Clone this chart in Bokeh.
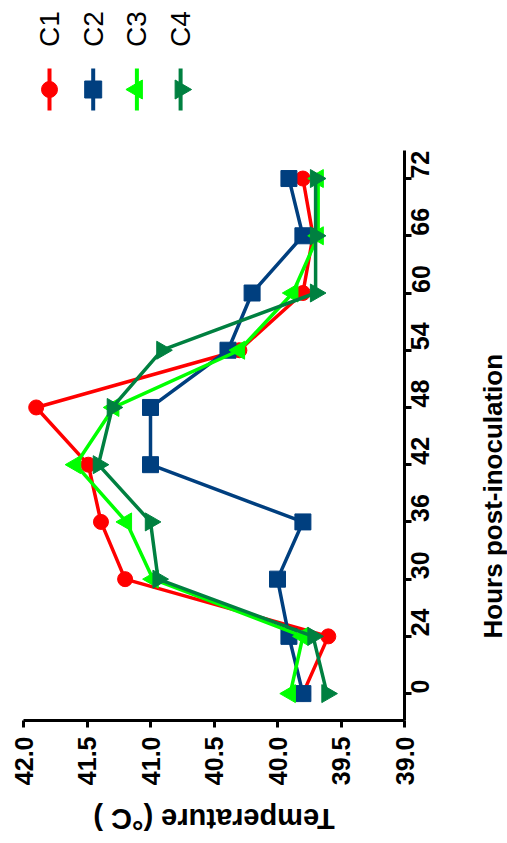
import math
from bokeh.plotting import figure
from bokeh.models import Range1d, FixedTicker, ColumnDataSource, NumeralTickFormatter
from bokeh.layouts import column, row
from bokeh.embed import file_html
from bokeh.resources import INLINE
from bokeh.core.properties import value

# ---- data ----
hours = [0, 24, 30, 36, 42, 48, 54, 60, 66, 72]
series_names = ["C1", "C2", "C3", "C4"]
c1 = [39.80, 39.60, 41.20, 41.39, 41.49, 41.90, 40.30, 39.80, 39.72, 39.80]
c2 = [39.80, 39.91, 40.00, 39.80, 41.00, 41.00, 40.39, 40.20, 39.80, 39.91]
c3 = [39.90, 39.80, 40.98, 41.19, 41.59, 41.29, 40.30, 39.88, 39.68, 39.68]
c4 = [39.61, 39.72, 40.94, 41.00, 41.41, 41.30, 40.91, 39.70, 39.70, 39.70]
temp_ticks = [42.0, 41.5, 41.0, 40.5, 40.0, 39.5, 39.0]
x_title = "Temperature (°C )"
y_title = "Hours post-inoculation"

# ---- styles ----
colors = ["#FF0000", "#003F7F", "#00FF00", "#008040"]
markers = ["circle", "square", "triangle", "triangle"]
angles = [0, 0, math.pi / 2, -math.pi / 2]
sizes = [15, 16, 18, 18]
FONT = "Liberation Sans"

series = [c1, c2, c3, c4]
idx = list(range(len(hours)))

W, H = 507, 843
LEG_H = 125        # legend strip on top
BOT_H = 46         # strip for the upside-down x title
RIGHT_W = 37       # strip for the rotated y title
MAIN_H = H - LEG_H - BOT_H
MAIN_W = W - RIGHT_W
BL = 23            # left border (frame starts here)
FRAME_R = 404      # frame right edge
BT, BB = 25, 77    # main top / bottom borders

x_range = Range1d(42, 39)
y_range = Range1d(-0.47, 9.49)


def bare(fig):
    fig.grid.visible = False
    fig.outline_line_color = None
    return fig


# ---- legend strip ----
leg = bare(figure(width=W, height=LEG_H, x_range=Range1d(BL, FRAME_R), y_range=Range1d(LEG_H, 0),
                  output_backend="svg", toolbar_location=None,
                  min_border_left=BL, min_border_right=W - FRAME_R, min_border_top=0, min_border_bottom=0,
                  x_axis_location=None, y_axis_location=None))
lx = [49 + 43.7 * i for i in range(len(series_names))]
for i, name in enumerate(series_names):
    leg.segment(x0=[lx[i]], y0=[68], x1=[lx[i]], y1=[110], line_color=colors[i], line_width=4)
    leg.scatter(x=[lx[i]], y=[89], marker=markers[i], angle=angles[i], size=sizes[i] + 1,
                fill_color=colors[i], line_color=colors[i])
leg.text(x=lx, y=[28.5] * 4, text=series_names, angle=math.pi / 2, text_align="center",
         text_baseline="middle", text_font=value(FONT), text_font_size="28px", text_color="black")

# ---- main figure ----
p = bare(figure(width=MAIN_W, height=MAIN_H, x_range=x_range, y_range=y_range,
                x_axis_location="below", y_axis_location="right",
                output_backend="svg", toolbar_location=None,
                min_border_left=BL, min_border_right=MAIN_W - FRAME_R,
                min_border_top=BT, min_border_bottom=BB))

for i, vals in enumerate(series):
    src = ColumnDataSource(dict(t=vals, y=idx))
    p.line(x="t", y="y", source=src, line_color=colors[i], line_width=3.5)
    p.scatter(x="t", y="y", source=src, marker=markers[i], angle=angles[i], size=sizes[i],
              fill_color=colors[i], line_color=colors[i])

for ax in (p.xaxis[0], p.yaxis[0]):
    ax.axis_line_width = 3
    ax.axis_line_color = "black"
    ax.major_tick_line_width = 3
    ax.major_tick_line_color = "black"
    ax.major_tick_out = 7
    ax.major_tick_in = 0
    ax.minor_tick_line_color = None
    ax.major_label_text_font = FONT
    ax.major_label_text_font_style = "bold"
    ax.major_label_text_font_size = "25px"
    ax.major_label_text_color = "black"
    ax.major_label_orientation = math.pi / 2
    ax.major_label_standoff = 9

xa = p.xaxis[0]
xa.ticker = FixedTicker(ticks=temp_ticks)
xa.formatter = NumeralTickFormatter(format="0.0")

ya = p.yaxis[0]
ya.ticker = FixedTicker(ticks=idx)
ya.major_label_overrides = {i: str(h) for i, h in zip(idx, hours)}

# ---- right strip: y title (reads bottom-to-top) ----
rf = bare(figure(width=RIGHT_W, height=MAIN_H, x_range=Range1d(0, RIGHT_W), y_range=y_range,
                 output_backend="svg", toolbar_location=None,
                 min_border_left=0, min_border_right=0, min_border_top=BT, min_border_bottom=BB,
                 x_axis_location=None, y_axis_location=None))
rf.text(x=[22], y=[3.45], text=[y_title], angle=math.pi / 2, text_align="center",
        text_baseline="middle", text_font=value(FONT), text_font_style="bold",
        text_font_size="26px", text_color="black")

# ---- bottom strip: x title (upside-down) ----
bf = bare(figure(width=W, height=BOT_H, x_range=x_range, y_range=Range1d(0, BOT_H),
                 output_backend="svg", toolbar_location=None,
                 min_border_left=BL, min_border_right=W - FRAME_R, min_border_top=0, min_border_bottom=0,
                 x_axis_location=None, y_axis_location=None))
bf.text(x=[40.5], y=[BOT_H - 21], text=[x_title], angle=math.pi, text_align="center",
        text_baseline="middle", text_font=value(FONT), text_font_style="bold",
        text_font_size="29px", text_color="black")

layout = column(leg, row(p, rf, spacing=0), bf, spacing=0)
open("out.html", "w").write(file_html(layout, INLINE))
